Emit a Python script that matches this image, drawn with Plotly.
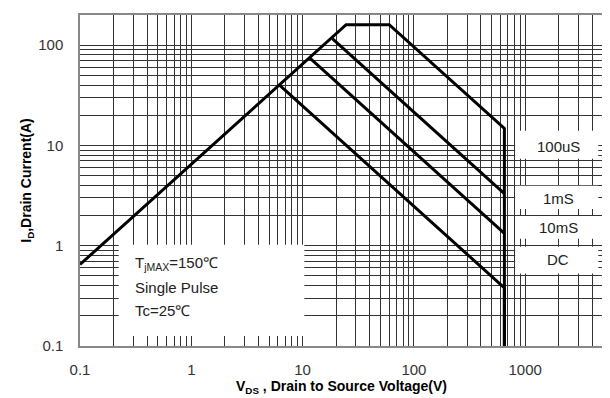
import plotly.graph_objects as go

# ---- data ----
soa_v = [0.1, 24.6, 60, 650, 650]          # Rds(on) limit, current limit, 100us
soa_i = [0.65, 160, 160, 14.8, 0.1]
ms1_v = [18.5, 650]
ms1_i = [116, 3.3]
ms10_v = [11.5, 650]
ms10_i = [75, 1.33]
dc_v = [6.2, 650, 650]
dc_i = [40, 0.38, 0.1]

x_ticks = [0.1, 1, 10, 100, 1000]
x_ticktext = ["0.1", "1", "10", "100", "1000"]
y_ticks = [0.1, 1, 10, 100]
y_ticktext = ["0.1", "1", "10", "100"]
curve_labels = ["100uS", "1mS", "10mS", "DC"]
note_lines = ["T<sub>jMAX</sub>=150℃", "Single Pulse", "Tc=25℃"]

FONT = "Liberation Sans, Arial, sans-serif"

x_minor = [m * 10 ** e for e in range(-1, 4) for m in range(2, 10) if m * 10 ** e <= 5000]
y_minor = [m * 10 ** e for e in range(-1, 3) for m in range(2, 10) if m * 10 ** e <= 200]

fig = go.Figure()
line = dict(color="black", width=3)
for xs, ys in [(soa_v, soa_i), (ms1_v, ms1_i), (ms10_v, ms10_i), (dc_v, dc_i)]:
    fig.add_trace(go.Scatter(x=xs, y=ys, mode="lines", line=line,
                             showlegend=False, hoverinfo="skip"))

# white boxes (axis-domain coordinates); they do not overlap any curve
boxes = [
    (0.074, 0.030, 0.429, 0.306),   # note box
    (0.832, 0.566, 0.991, 0.650),   # 100uS
    (0.832, 0.414, 0.991, 0.484),   # 1mS
    (0.832, 0.324, 0.991, 0.393),   # 10mS
    (0.832, 0.219, 0.991, 0.300),   # DC
]
for x0, y0, x1, y1 in boxes:
    fig.add_shape(type="rect", xref="x domain", yref="y domain", x0=x0, y0=y0, x1=x1, y1=y1,
                  fillcolor="white", line=dict(width=0), layer="above")

label_y = [0.603, 0.447, 0.357, 0.261]
for txt, yy in zip(curve_labels, label_y):
    fig.add_annotation(text=txt, xref="x domain", yref="y domain", x=0.914, y=yy,
                       showarrow=False, font=dict(size=15, color="#222", family=FONT),
                       xanchor="center", yanchor="middle")

note_y = [0.249, 0.177, 0.108]
for txt, yy in zip(note_lines, note_y):
    fig.add_annotation(text=txt, xref="x domain", yref="y domain", x=0.101, y=yy,
                       showarrow=False, font=dict(size=15, color="#222", family=FONT),
                       xanchor="left", yanchor="middle")

grid = "#333333"
fig.update_xaxes(type="log", range=[-1, 3.699],
                 tickvals=x_ticks, ticktext=x_ticktext, ticks="",
                 showgrid=True, gridcolor=grid, gridwidth=1,
                 minor=dict(tickvals=x_minor, showgrid=True, gridcolor=grid, gridwidth=1, ticks=""),
                 showline=True, mirror=True, linecolor="#888", linewidth=1.5,
                 zeroline=False, ticklabelstandoff=9,
                 tickfont=dict(size=15, color="#333", family=FONT),
                 title=dict(text="<b>V<sub>DS</sub> , Drain to Source Voltage(V)</b>",
                            font=dict(size=14, color="black", family=FONT), standoff=0))
fig.update_yaxes(type="log", range=[-1, 2.301],
                 tickvals=y_ticks, ticktext=y_ticktext, ticks="",
                 showgrid=True, gridcolor=grid, gridwidth=1,
                 minor=dict(tickvals=y_minor, showgrid=True, gridcolor=grid, gridwidth=1, ticks=""),
                 showline=True, mirror=True, linecolor="#888", linewidth=1.5,
                 zeroline=False, ticklabelstandoff=12,
                 tickfont=dict(size=15, color="#333", family=FONT),
                 title=dict(text="<b>I<sub>D</sub>,Drain Current(A)</b>",
                            font=dict(size=14, color="black", family=FONT), standoff=3))

# page body has an 8px margin: shrink the figure so the plot area lands where the reference has it
fig.update_layout(width=602, height=390,
                  margin=dict(l=72, r=5, t=5, b=52),
                  paper_bgcolor="white", plot_bgcolor="white",
                  font=dict(family=FONT))

fig.write_html("out.html")
